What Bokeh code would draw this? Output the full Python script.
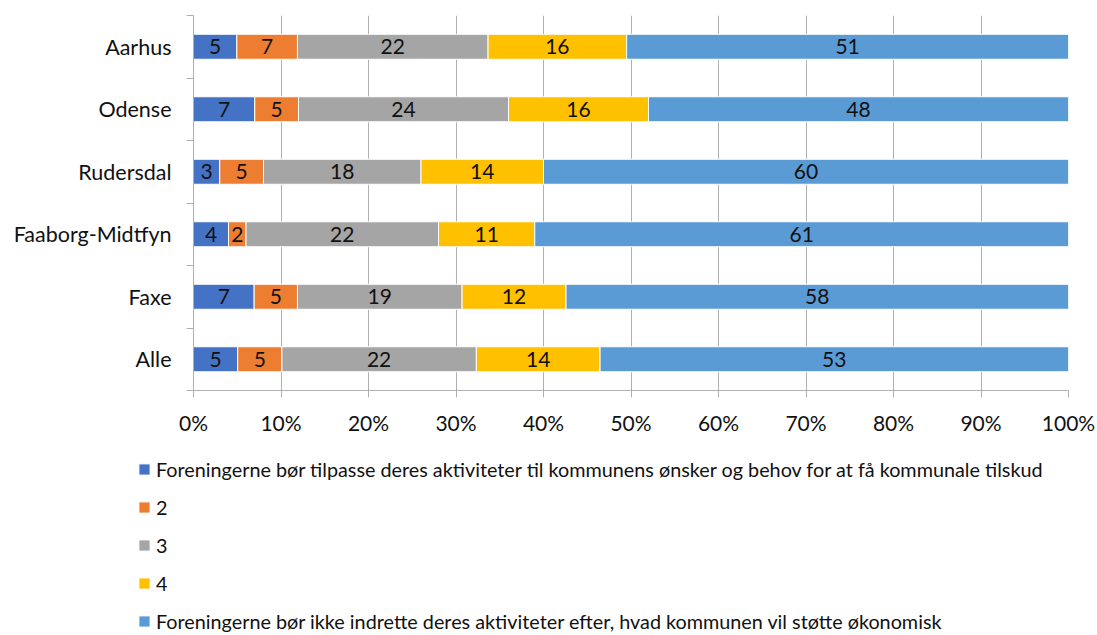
from bokeh.plotting import figure
from bokeh.models import (ColumnDataSource, Range1d, FixedTicker, PrintfTickFormatter,
                          Legend, LegendItem)
from bokeh.core.properties import value
from bokeh.embed import file_html
from bokeh.resources import INLINE

categories = ["Aarhus", "Odense", "Rudersdal", "Faaborg-Midtfyn", "Faxe", "Alle"]
s1 = [5, 7, 3, 4, 7, 5]
s2 = [7, 5, 5, 2, 5, 5]
s3 = [22, 24, 18, 22, 19, 22]
s4 = [16, 16, 14, 11, 12, 14]
s5 = [51, 48, 60, 61, 58, 53]
series = [s1, s2, s3, s4, s5]
series_names = [
    "Foreningerne bør tilpasse deres aktiviteter til kommunens ønsker og behov for at få kommunale tilskud",
    "2",
    "3",
    "4",
    "Foreningerne bør ikke indrette deres aktiviteter efter, hvad kommunen vil støtte økonomisk",
]
colors = ["#4472C4", "#ED7D31", "#A5A5A5", "#FFC000", "#5B9BD5"]
x_ticks = [0, 10, 20, 30, 40, 50, 60, 70, 80, 90, 100]

FONT = "Lato"
TXT = "#111111"
n = len(categories)
ypos = [n - 0.5 - i for i in range(n)]
totals = [sum(s[i] for s in series) for i in range(n)]

p = figure(width=1097, height=450, output_backend="svg", toolbar_location=None,
           x_range=Range1d(0, 100), y_range=Range1d(0, n),
           min_border_left=193, min_border_right=29, min_border_top=15,
           min_border_bottom=60)
p.outline_line_color = None

# legend figure (separate root so its frame spans the full width)
lg = figure(width=1097, height=185, output_backend="svg", toolbar_location=None,
            x_range=Range1d(0, 100), y_range=Range1d(100, 101),
            min_border_left=0, min_border_right=0, min_border_top=0,
            min_border_bottom=0)
lg.outline_line_color = None
lg.axis.visible = False
lg.grid.visible = False

items = []
left = [0.0] * n
for k, s in enumerate(series):
    widths = [s[i] / totals[i] * 100 for i in range(n)]
    right = [left[i] + widths[i] for i in range(n)]
    mid = [(left[i] + right[i]) / 2 for i in range(n)]
    src = ColumnDataSource(dict(y=ypos, left=list(left), right=right, mid=mid,
                                lab=[str(v) for v in s]))
    p.hbar(y="y", left="left", right="right", height=0.4, source=src,
           fill_color=colors[k], line_color="white", line_width=1)
    p.text(x="mid", y="y", text="lab", source=src, text_align="center",
           text_baseline="middle", text_font=value(FONT), text_font_size="21px",
           text_color=TXT)
    r = lg.hbar(y="y", left="left", right="right", height=0.4, source=src,
                fill_color=colors[k], line_color="white", line_width=1)
    items.append(LegendItem(label=series_names[k], renderers=[r]))
    left = right

grid_color = "#b0b0b0"
p.xaxis.ticker = FixedTicker(ticks=x_ticks)
p.xaxis.formatter = PrintfTickFormatter(format="%d%%")
p.xaxis.axis_line_color = grid_color
p.xaxis.major_tick_line_color = grid_color
p.xaxis.major_tick_out = 7
p.xaxis.major_tick_in = 0
p.xaxis.minor_tick_line_color = None
p.xaxis.major_label_text_font = FONT
p.xaxis.major_label_text_font_size = "21px"
p.xaxis.major_label_text_color = TXT
p.xaxis.major_label_standoff = 12

p.yaxis.ticker = FixedTicker(ticks=ypos, minor_ticks=list(range(n + 1)))
p.yaxis.major_label_overrides = {ypos[i]: categories[i] for i in range(n)}
p.yaxis.axis_line_color = grid_color
p.yaxis.major_tick_line_color = None
p.yaxis.major_tick_out = 0
p.yaxis.minor_tick_line_color = grid_color
p.yaxis.minor_tick_out = 7
p.yaxis.minor_tick_in = 0
p.yaxis.major_label_text_font = FONT
p.yaxis.major_label_text_font_size = "21.5px"
p.yaxis.major_label_text_color = TXT
p.yaxis.major_label_standoff = 15

p.xgrid.ticker = FixedTicker(ticks=x_ticks)
p.xgrid.grid_line_color = grid_color
p.ygrid.grid_line_color = None

legend = Legend(items=items, location=(137, 2), orientation="vertical",
                glyph_width=14, glyph_height=14, label_height=21, spacing=14,
                label_standoff=5, padding=0, margin=0,
                label_text_font=FONT, label_text_font_size="19.8px",
                label_text_color=TXT,
                background_fill_alpha=0, border_line_alpha=0)
lg.add_layout(legend, "center")

open("out.html", "w").write(file_html([p, lg], INLINE))
